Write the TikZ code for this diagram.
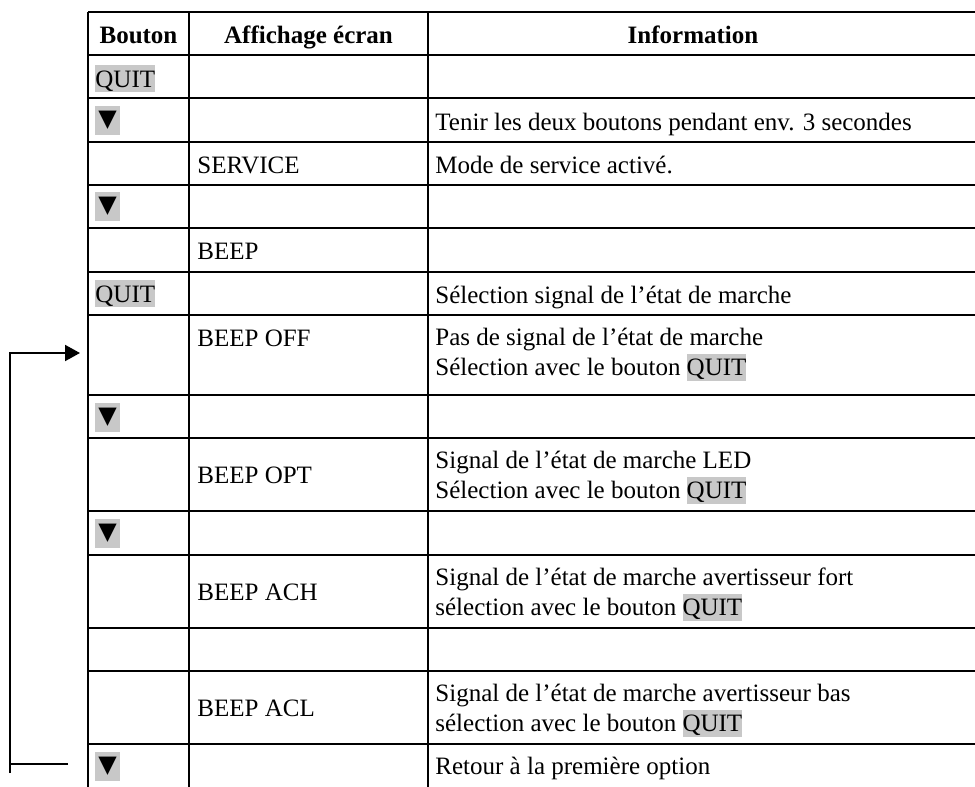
\documentclass[tikz,border=0pt]{standalone}
\usepackage{fontspec}
\setmainfont{Liberation Serif}
\newfontfamily\symfont{DejaVu Sans}
\usetikzlibrary{arrows.meta}
\definecolor{hlgray}{RGB}{200,200,200}
% gray highlight as in the manual
\newcommand{\hlquit}[1]{{\setlength{\fboxsep}{0pt}\colorbox{hlgray}{\vrule height 0.891em depth 0.216em width 0pt #1}}}
\newcommand{\twolines}[2]{\begin{tabular}[t]{@{}l@{}}#1\\#2\end{tabular}}
\begin{document}
\begin{tikzpicture}[x=0.5pt,y=-0.5pt,
  every node/.style={font=\fontsize{12.5}{14.5}\selectfont,inner sep=0pt},
  rule/.style={line width=0.75pt},
  txt/.style={anchor=base west},
  head/.style={anchor=base,font=\fontsize{12.5}{14.5}\selectfont\bfseries},
  downbtn/.style={fill=hlgray,minimum width=12.5pt,minimum height=14.5pt,font=\symfont\fontsize{12}{12}\selectfont},
  loopline/.style={line width=1pt}]
  \useasboundingbox (0,0) rectangle (975,787);

  % table rules
  \foreach \y in {12,55,98,142,185,228,272,315,395,438,511,555,628,671,744}
    \draw [rule] (88,\y) -- (975,\y);
  \foreach \x in {88,189,428}
    \draw [rule] (\x,12) -- (\x,787);

  % header
  \node [head] (hdbouton) at (138.5,43) {Bouton};
  \node [head] (hdaffich) at (308.5,43) {Affichage écran};
  \node [head] (hdinfo) at (693,43) {Information};

  % column Bouton
  \node [txt] (quit1) at (95,87) {\hlquit{QUIT}};
  \node [downbtn] (down1) at (107.5,120) {▼};
  \node [downbtn] (down2) at (107.5,206.5) {▼};
  \node [txt] (quit2) at (95,302) {\hlquit{QUIT}};
  \node [downbtn] (down3) at (107.5,417) {▼};
  \node [downbtn] (down4) at (107.5,533) {▼};
  \node [downbtn] (down5) at (107.5,766) {▼};

  % column Affichage
  \node [txt] (service) at (197,173) {SERVICE};
  \node [txt] (beep) at (197,259) {BEEP};
  \node [txt] (beepoff) at (197,346) {BEEP OFF};
  \node [txt] (beepopt) at (197,483) {BEEP OPT};
  \node [txt] (beepach) at (197,600) {BEEP ACH};
  \node [txt] (beepacl) at (197,716) {BEEP ACL};

  % column Information
  \node [txt] (infotenir) at (435,130) {Tenir les deux boutons pendant env. 3 secondes};
  \node [txt] (infoservice) at (435,173) {Mode de service activé.};
  \node [txt] (infoselect) at (435,303) {Sélection signal de l’état de marche};
  \node [txt] (infooff) at (435,345) {\twolines{Pas de signal de l’état de marche}{Sélection avec le bouton \hlquit{QUIT}}};
  \node [txt] (infoopt) at (435,468) {\twolines{Signal de l’état de marche LED}{Sélection avec le bouton \hlquit{QUIT}}};
  \node [txt] (infoach) at (435,585) {\twolines{Signal de l’état de marche avertisseur fort}{sélection avec le bouton \hlquit{QUIT}}};
  \node [txt] (infoacl) at (435,701) {\twolines{Signal de l’état de marche avertisseur bas}{sélection avec le bouton \hlquit{QUIT}}};
  \node [txt] (inforetour) at (435,774) {Retour à la première option};

  % return loop
  \coordinate (retour) at (68,764);
  \coordinate (loopbot) at (10,773);
  \coordinate (loopin) at (80,353);
  \draw [loopline] (retour) -- (retour -| loopbot);
  \draw [loopline,-{Triangle[length=7.5pt,width=8pt]}] (loopbot) |- (loopin);
\end{tikzpicture}
\end{document}
